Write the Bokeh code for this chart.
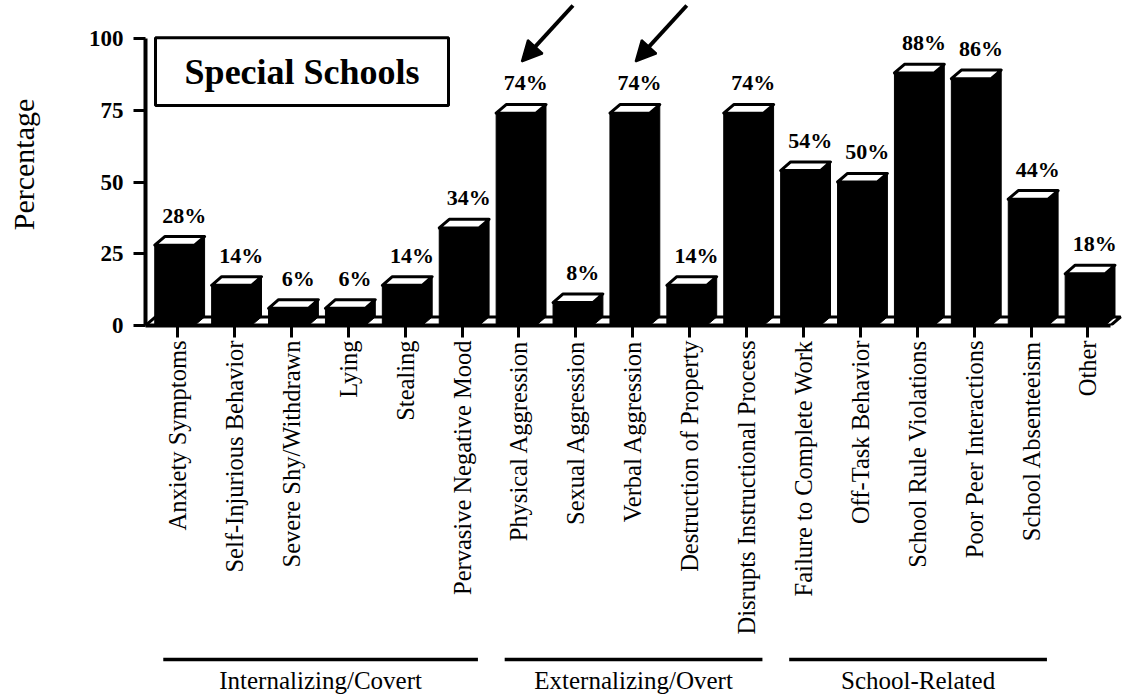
import math

from bokeh.core.properties import value
from bokeh.embed import file_html
from bokeh.layouts import column
from bokeh.models import (Arrow, BoxAnnotation, ColumnDataSource, FixedTicker,
                          Label, NormalHead, Range1d)
from bokeh.plotting import figure
from bokeh.resources import INLINE

# ---- data -------------------------------------------------------------
categories = [
    "Anxiety Symptoms", "Self-Injurious Behavior", "Severe Shy/Withdrawn",
    "Lying", "Stealing", "Pervasive Negative Mood", "Physical Aggression",
    "Sexual Aggression", "Verbal Aggression", "Destruction of Property",
    "Disrupts Instructional Process", "Failure to Complete Work",
    "Off-Task Behavior", "School Rule Violations", "Poor Peer Interactions",
    "School Absenteeism", "Other",
]
percent = [28, 14, 6, 6, 14, 34, 74, 8, 74, 14, 74, 54, 50, 88, 86, 44, 18]

group_names = ["Internalizing/Covert", "Externalizing/Overt", "School-Related"]
group_first = [0, 6, 11]
group_last = [5, 10, 15]

highlighted = ["Physical Aggression", "Verbal Aggression"]

y_ticks = [0, 25, 50, 75, 100]
y_label = "Percentage"
panel_title = "Special Schools"

# ---- layout constants -------------------------------------------------
SERIF = "Liberation Serif"
X0, X1 = -0.5624, 16.643          # frame spans 979 px, 56.9 px per category
Y1 = 112.2                        # 2.87 px per percentage point
FRONT_L, FRONT_R = -0.40, 0.30    # front face of a bar around its tick
DX, DY = 0.176, 3.0               # depth offset of the 3-D extrusion
FLOOR_END = 16.40

p = figure(width=1124, height=645,
           x_range=Range1d(X0, X1), y_range=Range1d(0, Y1),
           output_backend="svg", toolbar_location=None,
           min_border_left=145, min_border_right=0,
           min_border_top=3, min_border_bottom=320)
p.grid.visible = False
p.outline_line_color = None
p.background_fill_color = "white"
p.border_fill_color = "white"

# floor slab of the 3-D chart
p.patch(x=[X0, FLOOR_END, FLOOR_END + DX, X0 + DX],
        y=[0, 0, DY, DY],
        fill_color="white", line_color="black", line_width=3)

# bar bodies (front + side face) and white top faces
body_xs, body_ys, top_xs, top_ys = [], [], [], []
for i, v in enumerate(percent):
    L, R = i + FRONT_L, i + FRONT_R
    body_xs.append([L, R, R + DX, R + DX, R, L])
    body_ys.append([0, 0, DY, v + DY, v, v])
    top_xs.append([L, R, R + DX, L + DX])
    top_ys.append([v, v, v + DY, v + DY])

p.patches(xs="xs", ys="ys", source=ColumnDataSource(dict(xs=body_xs, ys=body_ys)),
          fill_color="black", line_color="black", line_width=1)
p.patches(xs="xs", ys="ys", source=ColumnDataSource(dict(xs=top_xs, ys=top_ys)),
          fill_color="white", line_color="black", line_width=3, line_join="round")

# value labels above the bars
lab_src = ColumnDataSource(dict(
    x=[i + 0.12 for i in range(len(percent))],
    y=[v + 10.5 for v in percent],
    t=[f"{v}%" for v in percent],
))
p.text(x="x", y="y", text="t", source=lab_src,
       text_font=value(SERIF), text_font_size="22px", text_font_style="bold",
       text_align="center", text_baseline="alphabetic", text_color="black")

# arrows pointing at the highlighted bars
for name in highlighted:
    i = categories.index(name)
    v = percent[i]
    p.add_layout(Arrow(end=NormalHead(size=20, fill_color="black", line_color="black",
                                      line_width=2),
                       x_start=i + 0.95, y_start=v + 37.5,
                       x_end=i + 0.05, y_end=v + 18.0,
                       line_width=4, line_color="black"))

# framed panel title
p.add_layout(BoxAnnotation(left=-0.387, right=4.763, bottom=76.7, top=100.3,
                           fill_color="white", fill_alpha=1.0,
                           line_color="black", line_width=3, line_alpha=1.0))
p.add_layout(Label(x=2.19, y=88.5, text=panel_title, text_align="center",
                   text_baseline="middle", text_font=SERIF,
                   text_font_size="36px", text_font_style="bold",
                   text_color="black"))

# axes
xa = p.xaxis[0]
xa.ticker = FixedTicker(ticks=list(range(len(categories))))
xa.major_label_overrides = {i: c for i, c in enumerate(categories)}
xa.major_label_orientation = math.pi / 2
xa.major_label_text_font = SERIF
xa.major_label_text_font_size = "24.5px"
xa.major_label_text_color = "black"
xa.major_label_standoff = 3
xa.axis_line_width = 4
xa.axis_line_color = "black"
xa.major_tick_line_width = 3
xa.major_tick_line_color = "black"
xa.major_tick_out = 12
xa.major_tick_in = 0
xa.minor_tick_line_color = None
xa.bounds = (X0, FLOOR_END)

ya = p.yaxis[0]
ya.ticker = FixedTicker(ticks=y_ticks)
ya.bounds = (0, 100)
ya.axis_label = y_label
ya.axis_label_text_font = SERIF
ya.axis_label_text_font_size = "30px"
ya.axis_label_text_font_style = "normal"
ya.axis_label_text_color = "black"
ya.axis_label_standoff = 46
ya.major_label_text_font = SERIF
ya.major_label_text_font_size = "23px"
ya.major_label_text_font_style = "bold"
ya.major_label_text_color = "black"
ya.major_label_standoff = 10
ya.axis_line_width = 4
ya.axis_line_color = "black"
ya.major_tick_line_width = 3
ya.major_tick_line_color = "black"
ya.major_tick_out = 12
ya.major_tick_in = 0
ya.minor_tick_line_color = None

# ---- strip with the category groups under the axis labels -------------
q = figure(width=1124, height=52, x_range=p.x_range, y_range=Range1d(52, 0),
           output_backend="svg", toolbar_location=None,
           min_border_left=145, min_border_right=0,
           min_border_top=0, min_border_bottom=0)
q.axis.visible = False
q.grid.visible = False
q.outline_line_color = None

grp = ColumnDataSource(dict(
    x0=[a - 0.25 for a in group_first],
    x1=[b + 0.28 for b in group_last],
    xc=[(a + b) / 2 + 0.015 for a, b in zip(group_first, group_last)],
    y=[14] * len(group_names),
    ty=[35] * len(group_names),
    name=group_names,
))
q.segment(x0="x0", y0="y", x1="x1", y1="y", source=grp,
          line_color="black", line_width=3.5)
q.text(x="xc", y="ty", text="name", source=grp,
       text_font=value(SERIF), text_font_size="25px",
       text_align="center", text_baseline="middle", text_color="black")

layout = column(p, q, spacing=0)
open("out.html", "w").write(file_html(layout, INLINE))
